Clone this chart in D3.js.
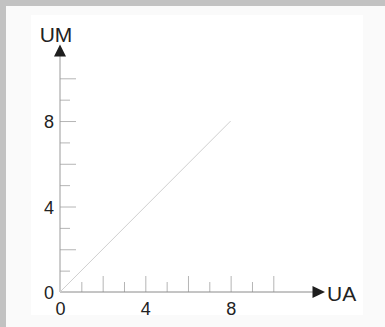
<!DOCTYPE html>
<html>
<head>
<meta charset="utf-8">
<script src="https://cdn.jsdelivr.net/npm/d3@7/dist/d3.min.js"></script>
<style>
  html, body { margin: 0; padding: 0; background: #fff; }
  svg { display: block; }
  text { font-family: "Liberation Sans", Arial, Helvetica, sans-serif; fill: #222; }
</style>
</head>
<body>
<div id="chart"></div>
<script>
// axis ranges and ticks
const xDomain = [0, 10];
const yDomain = [0, 10];
const majorTicks = [2, 4, 6, 8, 10];
const minorTicks = [1, 3, 5, 7, 9];
const labelTicks = [0, 4, 8];
const axisNames = { x: 'UA', y: 'UM' };

// the single line series
const lineX = [0, 8];
const lineY = [0, 8];

const WIDTH = 385;
const HEIGHT = 327;

const svg = d3.select('#chart').append('svg')
  .attr('width', WIDTH)
  .attr('height', HEIGHT);

// page background and frame
svg.append('rect').attr('width', WIDTH).attr('height', HEIGHT).attr('fill', '#fafafa');
svg.append('rect').attr('x', 31).attr('y', 15).attr('width', 332).attr('height', 300).attr('fill', '#fff');
svg.append('rect').attr('x', 0).attr('y', 0).attr('width', WIDTH).attr('height', 6).attr('fill', '#c2c2c2');
svg.append('rect').attr('x', 0).attr('y', 0).attr('width', 6).attr('height', HEIGHT).attr('fill', '#c2c2c2');

const x = d3.scaleLinear().domain(xDomain).range([60, 273.3]);
const y = d3.scaleLinear().domain(yDomain).range([292, 78.3]);

/*
* tickAxis - draws tick marks only (no domain, no labels)
*/
function tickAxis(axis, transform, size, values) {
  const g = svg.append('g').attr('transform', transform)
    .call(axis.tickValues(values).tickSize(size).tickFormat(''));
  g.select('.domain').remove();
  g.selectAll('.tick line').attr('stroke', '#b5b5b5').attr('stroke-width', 1);
  return g;
}

tickAxis(d3.axisRight(y), 'translate(60,0)', 16, majorTicks);
tickAxis(d3.axisRight(y), 'translate(60,0)', 10, minorTicks);
tickAxis(d3.axisTop(x), 'translate(0,292)', 16, majorTicks);
tickAxis(d3.axisTop(x), 'translate(0,292)', 10, minorTicks);

// axis lines with arrowheads
svg.append('line').attr('x1', 60).attr('x2', 60).attr('y1', 292).attr('y2', 56)
  .attr('stroke', '#9a9a9a').attr('stroke-width', 1);
svg.append('line').attr('x1', 60).attr('x2', 313).attr('y1', 292).attr('y2', 292)
  .attr('stroke', '#8a8a8a').attr('stroke-width', 1);
svg.append('path').attr('d', 'M60,44.5 L54,56.5 L66,56.5 Z').attr('fill', '#1e1e1e');
svg.append('path').attr('d', 'M325,292 L312.5,286 L312.5,298 Z').attr('fill', '#1e1e1e');

// tick labels
const yLabels = svg.append('g').attr('transform', 'translate(60,0)')
  .call(d3.axisLeft(y).tickValues(labelTicks).tickSize(0).tickPadding(6).tickFormat(d3.format('d')));
yLabels.select('.domain').remove();
yLabels.selectAll('text').attr('font-size', 18).attr('font-family', null).attr('fill', '#222')
  .attr('dy', '0.36em');

const xLabels = svg.append('g').attr('transform', 'translate(0,292)')
  .call(d3.axisBottom(x).tickValues(labelTicks).tickSize(0).tickPadding(10).tickFormat(d3.format('d')));
xLabels.select('.domain').remove();
xLabels.selectAll('text').attr('font-size', 18).attr('font-family', null).attr('fill', '#222');

// axis names
svg.append('text').attr('x', 56).attr('y', 42).attr('text-anchor', 'middle')
  .attr('font-size', 21).text(axisNames.y);
svg.append('text').attr('x', 327).attr('y', 301).attr('text-anchor', 'start')
  .attr('font-size', 21).text(axisNames.x);

// the diagonal line
const points = lineX.map((d, i) => [d, lineY[i]]);
svg.append('path').datum(points)
  .attr('fill', 'none').attr('stroke', '#d0d0d0').attr('stroke-width', 1)
  .attr('d', d3.line().x(d => x(d[0])).y(d => y(d[1])));
</script>
</body>
</html>
